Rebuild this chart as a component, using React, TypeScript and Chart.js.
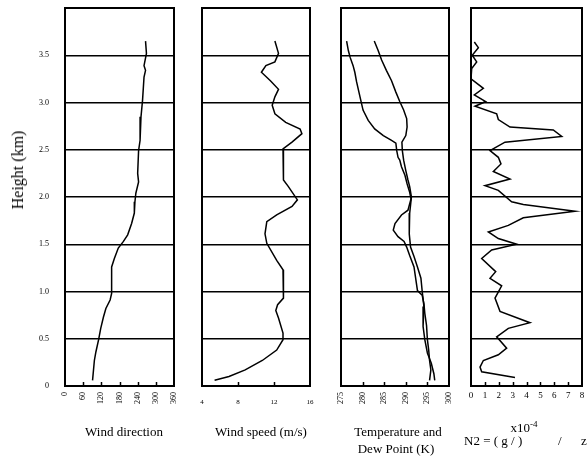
import React, { useEffect, useRef } from "react";
import { Chart, registerables } from "chart.js";

Chart.register(...registerables);

// ---------- data ----------
const heightTicks = [0, 0.5, 1, 1.5, 2, 2.5, 3, 3.5];

const dirTicks = [0, 60, 120, 180, 240, 300, 360];
const speedTicks = [4, 8, 12, 16];
const tempTicks = [275, 280, 285, 290, 295, 300];
const n2Ticks = [0, 1, 2, 3, 4, 5, 6, 7, 8];

const windDirHeight = [3.65, 3.52, 3.39, 3.34, 3.27, 3.02, 2.85, 2.6, 2.49, 2.25, 2.16, 2.04, 1.95, 1.83, 1.72, 1.6, 1.53, 1.46, 1.35, 1.26, 0.98, 0.91, 0.82, 0.73, 0.61, 0.49, 0.36, 0.27, 0.06];
const windDirValue = [266, 269, 261, 266, 261, 256, 251, 248, 243, 240, 243, 234, 231, 229, 220, 207, 193, 176, 163, 154, 154, 149, 135, 127, 118, 111, 102, 97, 91];

const windSpeedHeight = [3.65, 3.52, 3.43, 3.39, 3.32, 3.23, 3.14, 3.06, 2.97, 2.88, 2.79, 2.72, 2.67, 2.58, 2.51, 2.35, 2.18, 2.11, 1.97, 1.9, 1.81, 1.74, 1.61, 1.51, 1.33, 1.23, 0.96, 0.93, 0.86, 0.8, 0.72, 0.56, 0.49, 0.38, 0.27, 0.17, 0.1, 0.06];
const windSpeedValue = [12.1, 12.5, 12.1, 11.1, 10.6, 11.6, 12.5, 12.1, 11.8, 12.1, 13.3, 14.9, 15.1, 14.0, 13.0, 13.0, 13.1, 13.6, 14.6, 14.0, 12.3, 11.2, 11.0, 11.2, 12.3, 13.0, 13.0, 13.1, 12.4, 12.2, 12.5, 13.0, 13.0, 12.3, 10.7, 8.8, 7.0, 5.4];

const tempHeight = [3.65, 3.55, 3.45, 3.34, 3.23, 3.11, 3.01, 2.92, 2.83, 2.74, 2.65, 2.58, 2.49, 2.39, 2.28, 2.18, 2.11, 2.0, 1.83, 1.61, 1.47, 1.37, 1.26, 1.14, 1.0, 0.84, 0.63, 0.49, 0.35, 0.24, 0.13, 0.06];
const tempValue = [282.7, 283.6, 284.4, 285.5, 286.7, 287.7, 288.6, 289.5, 290.2, 290.3, 290.0, 289.1, 289.2, 289.5, 290.0, 290.5, 290.9, 291.3, 290.9, 290.8, 291.1, 291.9, 292.7, 293.5, 293.8, 294.2, 294.0, 294.4, 295.0, 295.9, 296.5, 296.7];

const dewHeight = [3.65, 3.55, 3.48, 3.39, 3.32, 3.22, 3.06, 2.92, 2.81, 2.72, 2.65, 2.6, 2.57, 2.49, 2.42, 2.39, 2.32, 2.23, 2.14, 2.05, 1.98, 1.86, 1.81, 1.72, 1.65, 1.58, 1.53, 1.47, 1.38, 1.26, 1.01, 0.96, 0.87, 0.77, 0.64, 0.49, 0.38, 0.27, 0.17, 0.06];
const dewValue = [276.3, 276.7, 277.1, 277.8, 278.2, 278.6, 279.4, 280.1, 281.3, 282.8, 284.8, 286.7, 287.7, 287.9, 288.2, 288.6, 289.0, 289.8, 290.3, 290.9, 291.2, 290.5, 289.0, 287.5, 287.1, 288.2, 289.6, 290.2, 290.9, 291.9, 292.7, 293.8, 294.2, 294.4, 294.8, 295.0, 295.3, 295.5, 295.8, 295.5];

const n2Height = [3.64, 3.58, 3.5, 3.43, 3.36, 3.25, 3.15, 3.08, 3.01, 2.96, 2.88, 2.82, 2.74, 2.71, 2.64, 2.58, 2.49, 2.42, 2.35, 2.27, 2.19, 2.12, 2.07, 1.95, 1.92, 1.85, 1.78, 1.7, 1.63, 1.56, 1.5, 1.44, 1.35, 1.21, 1.14, 1.06, 0.93, 0.79, 0.67, 0.61, 0.52, 0.4, 0.33, 0.27, 0.2, 0.15, 0.09];
const n2Value = [0.24, 0.53, 0.09, 0.41, 0.05, 0.0, 0.89, 0.24, 1.06, 0.29, 1.85, 1.97, 2.81, 5.93, 6.54, 2.45, 1.37, 1.97, 2.16, 1.61, 2.81, 1.01, 1.97, 2.93, 3.77, 7.5, 3.77, 2.69, 1.25, 1.97, 3.29, 1.49, 0.77, 1.78, 1.37, 2.21, 1.73, 2.09, 4.25, 2.69, 1.85, 2.57, 1.97, 0.89, 0.65, 0.77, 3.17];

const FONT = "'Liberation Serif', 'Times New Roman', serif";

const toPoints = (hs: number[], vs: number[]) => hs.map((h, i) => ({ x: vs[i], y: h }));

const framePlugin = {
  id: "frame",
  afterDraw(chart: any, _args: any, opts: any) {
    const { ctx, chartArea: a, scales } = chart;
    const xs = scales.x;
    ctx.save();
    ctx.strokeStyle = "#000";
    ctx.lineWidth = 1.5;
    xs.ticks.forEach((t: any) => {
      if (t.value <= xs.min || t.value >= xs.max) return;
      const px = Math.round(xs.getPixelForValue(t.value)) + 0.5;
      ctx.beginPath();
      ctx.moveTo(px, a.bottom);
      ctx.lineTo(px, a.bottom - (opts.tick || 4));
      ctx.stroke();
    });
    ctx.lineWidth = 2;
    ctx.strokeRect(a.left, a.top, a.right - a.left, a.bottom - a.top);
    ctx.restore();
  },
};

const zeroPad = (s: any) => {
  s.paddingLeft = 0;
  s.paddingRight = 0;
  s.paddingTop = 0;
  s.paddingBottom = 0;
};

type PanelProps = {
  left: number;
  width: number;
  yWidth: number;
  padRight: number;
  showY: boolean;
  xMin: number;
  xMax: number;
  xTicks: number[];
  rotate: boolean;
  xFont: number;
  xPad: number;
  series: { x: number; y: number }[][];
};

function Panel(p: PanelProps) {
  const ref = useRef<HTMLCanvasElement>(null);
  useEffect(() => {
    if (!ref.current) return;
    const chart = new Chart(ref.current, {
      type: "line",
      data: {
        datasets: p.series.map((s) => ({
          data: s,
          borderColor: "#000",
          borderWidth: 1.5,
          pointRadius: 0,
          fill: false,
          tension: 0,
        })),
      },
      options: {
        animation: false,
        responsive: false,
        maintainAspectRatio: false,
        layout: { padding: { top: 8, right: p.padRight, left: 0, bottom: 0 } },
        plugins: {
          legend: { display: false },
          tooltip: { enabled: false },
          frame: { tick: 4 },
        } as any,
        scales: {
          x: {
            type: "linear",
            min: p.xMin,
            max: p.xMax,
            afterBuildTicks: (s: any) => {
              s.ticks = p.xTicks.map((v) => ({ value: v }));
            },
            afterFit: (s: any) => {
              s.height = 70;
              zeroPad(s);
            },
            ticks: {
              autoSkip: false,
              minRotation: p.rotate ? 90 : 0,
              maxRotation: p.rotate ? 90 : 0,
              padding: p.xPad,
              color: "#000",
              font: { family: FONT, size: p.xFont },
              callback: (v: any) => String(v),
            },
            grid: { display: false, drawTicks: false },
            border: { display: false },
          },
          y: {
            type: "linear",
            min: 0,
            max: 4,
            afterBuildTicks: (s: any) => {
              s.ticks = heightTicks.map((v) => ({ value: v }));
            },
            afterFit: (s: any) => {
              s.width = p.yWidth;
              zeroPad(s);
            },
            ticks: {
              display: p.showY,
              padding: 16,
              color: "#000",
              font: { family: FONT, size: 8 },
              callback: (v: any) => (v === 0 ? "0" : Number(v).toFixed(1)),
            },
            grid: { color: "#000", lineWidth: 1.5, drawTicks: false },
            border: { display: false },
          },
        },
      } as any,
      plugins: [framePlugin],
    });
    return () => chart.destroy();
  }, []);
  return (
    <canvas
      ref={ref}
      width={p.width}
      height={456}
      style={{ position: "absolute", left: p.left, top: 0, width: p.width, height: 456 }}
    />
  );
}

const txt: React.CSSProperties = {
  position: "absolute",
  fontFamily: FONT,
  fontSize: 13,
  color: "#000",
  whiteSpace: "pre",
  lineHeight: 1,
};

export default function App() {
  return (
    <div style={{ position: "absolute", left: 0, top: 0, width: 587, height: 456, background: "#fff", overflow: "hidden" }}>
      <Panel left={0} width={180} yWidth={65} padRight={6} showY={true} xMin={0} xMax={360} xTicks={dirTicks} rotate={true} xFont={8} xPad={6} series={[toPoints(windDirHeight, windDirValue)]} />
      <Panel left={196} width={120} yWidth={6} padRight={6} showY={false} xMin={4} xMax={16} xTicks={speedTicks} rotate={false} xFont={7} xPad={12} series={[toPoints(windSpeedHeight, windSpeedValue)]} />
      <Panel left={335} width={120} yWidth={6} padRight={6} showY={false} xMin={275} xMax={300} xTicks={tempTicks} rotate={true} xFont={8} xPad={6} series={[toPoints(tempHeight, tempValue), toPoints(dewHeight, dewValue)]} />
      <Panel left={465} width={122} yWidth={6} padRight={5} showY={false} xMin={0} xMax={8} xTicks={n2Ticks} rotate={false} xFont={9} xPad={4} series={[toPoints(n2Height, n2Value)]} />

      <div style={{ ...txt, fontSize: 16, left: 18, top: 170, transform: "translate(-50%, -50%) rotate(-90deg)" }}>Height (km)</div>
      <div style={{ ...txt, left: 124, top: 425, transform: "translateX(-50%)" }}>Wind direction</div>
      <div style={{ ...txt, left: 261, top: 425, transform: "translateX(-50%)" }}>Wind speed (m/s)</div>
      <div style={{ ...txt, left: 398, top: 425, transform: "translateX(-50%)" }}>Temperature and</div>
      <div style={{ ...txt, left: 396, top: 442, transform: "translateX(-50%)" }}>Dew Point (K)</div>
      <div style={{ ...txt, left: 524, top: 421, transform: "translateX(-50%)" }}>
        x10<sup style={{ fontSize: 9, verticalAlign: "5px", lineHeight: 0 }}>-4</sup>
      </div>
      <div style={{ ...txt, left: 464, top: 434 }}>{"N2 = ( g / )           /      z"}</div>
    </div>
  );
}
